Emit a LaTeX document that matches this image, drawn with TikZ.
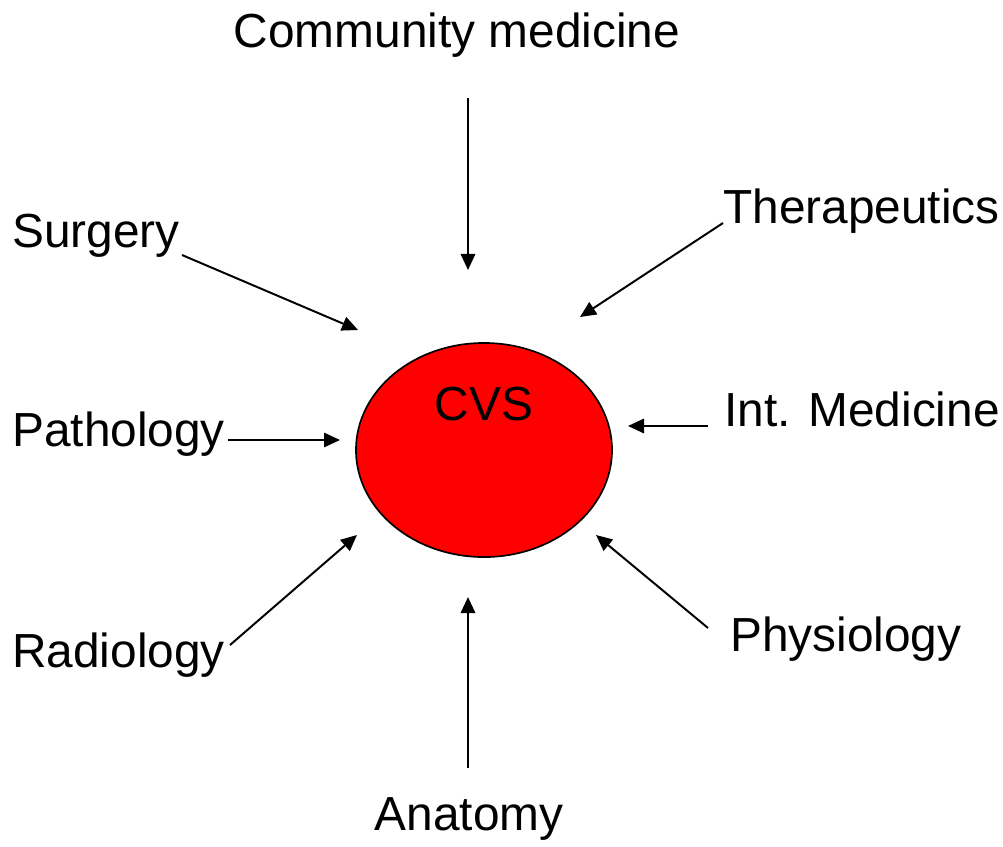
\documentclass[tikz,border=0pt]{standalone}
\usepackage{fontspec}
\setmainfont{Liberation Sans}
\usetikzlibrary{arrows.meta,shapes.geometric}

\begin{document}
\begin{tikzpicture}[x=0.025cm,y=-0.025cm,
	lbl/.style={inner sep=0pt,font=\fontsize{34}{41}\selectfont},
	hub/.style={draw,ellipse,fill=red,line width=1.2pt,inner sep=0pt,
		minimum width=6.4cm,minimum height=5.35cm},
	feed/.style={line width=1.4pt,-{Triangle[length=0.4cm,width=0.36cm]}}]
\useasboundingbox (0,0) rectangle (1003,846);
%centre
\node[hub] (cvs) at (484,450) {};
\node[lbl,anchor=base] (cvslbl) at (484,420) {CVS};
%labels
\node[lbl,anchor=base] (comm) at (457,48) {Community medicine};
\node[lbl,anchor=base west] (surg) at (12,247) {Surgery};
\node[lbl,anchor=base west] (ther) at (723,223) {Therapeutics};
\node[lbl,anchor=base west] (path) at (12,446) {Pathology};
\node[lbl,anchor=base west] (intm) at (724,426) {Int. Medicine};
\node[lbl,anchor=base west] (radi) at (12,667) {Radiology};
\node[lbl,anchor=base west] (phys) at (730,651) {Physiology};
\node[lbl,anchor=base] (anat) at (469,830) {Anatomy};
%arrow ends
\coordinate (comm-a) at (468,98);  \coordinate (comm-b) at (468,270);
\coordinate (surg-a) at (182,255); \coordinate (surg-b) at (358,330);
\coordinate (ther-a) at (723,223); \coordinate (ther-b) at (580,317);
\coordinate (path-a) at (228,440); \coordinate (path-b) at (340,440);
\coordinate (intm-a) at (708,426); \coordinate (intm-b) at (628,426);
\coordinate (radi-a) at (230,645); \coordinate (radi-b) at (357,535);
\coordinate (phys-a) at (708,628); \coordinate (phys-b) at (596,535);
\coordinate (anat-a) at (468,768); \coordinate (anat-b) at (468,597);
%arrows
\foreach \s in {comm,surg,ther,path,intm,radi,phys,anat}
	\draw[feed] (\s-a) -- (\s-b);
\end{tikzpicture}
\end{document}
